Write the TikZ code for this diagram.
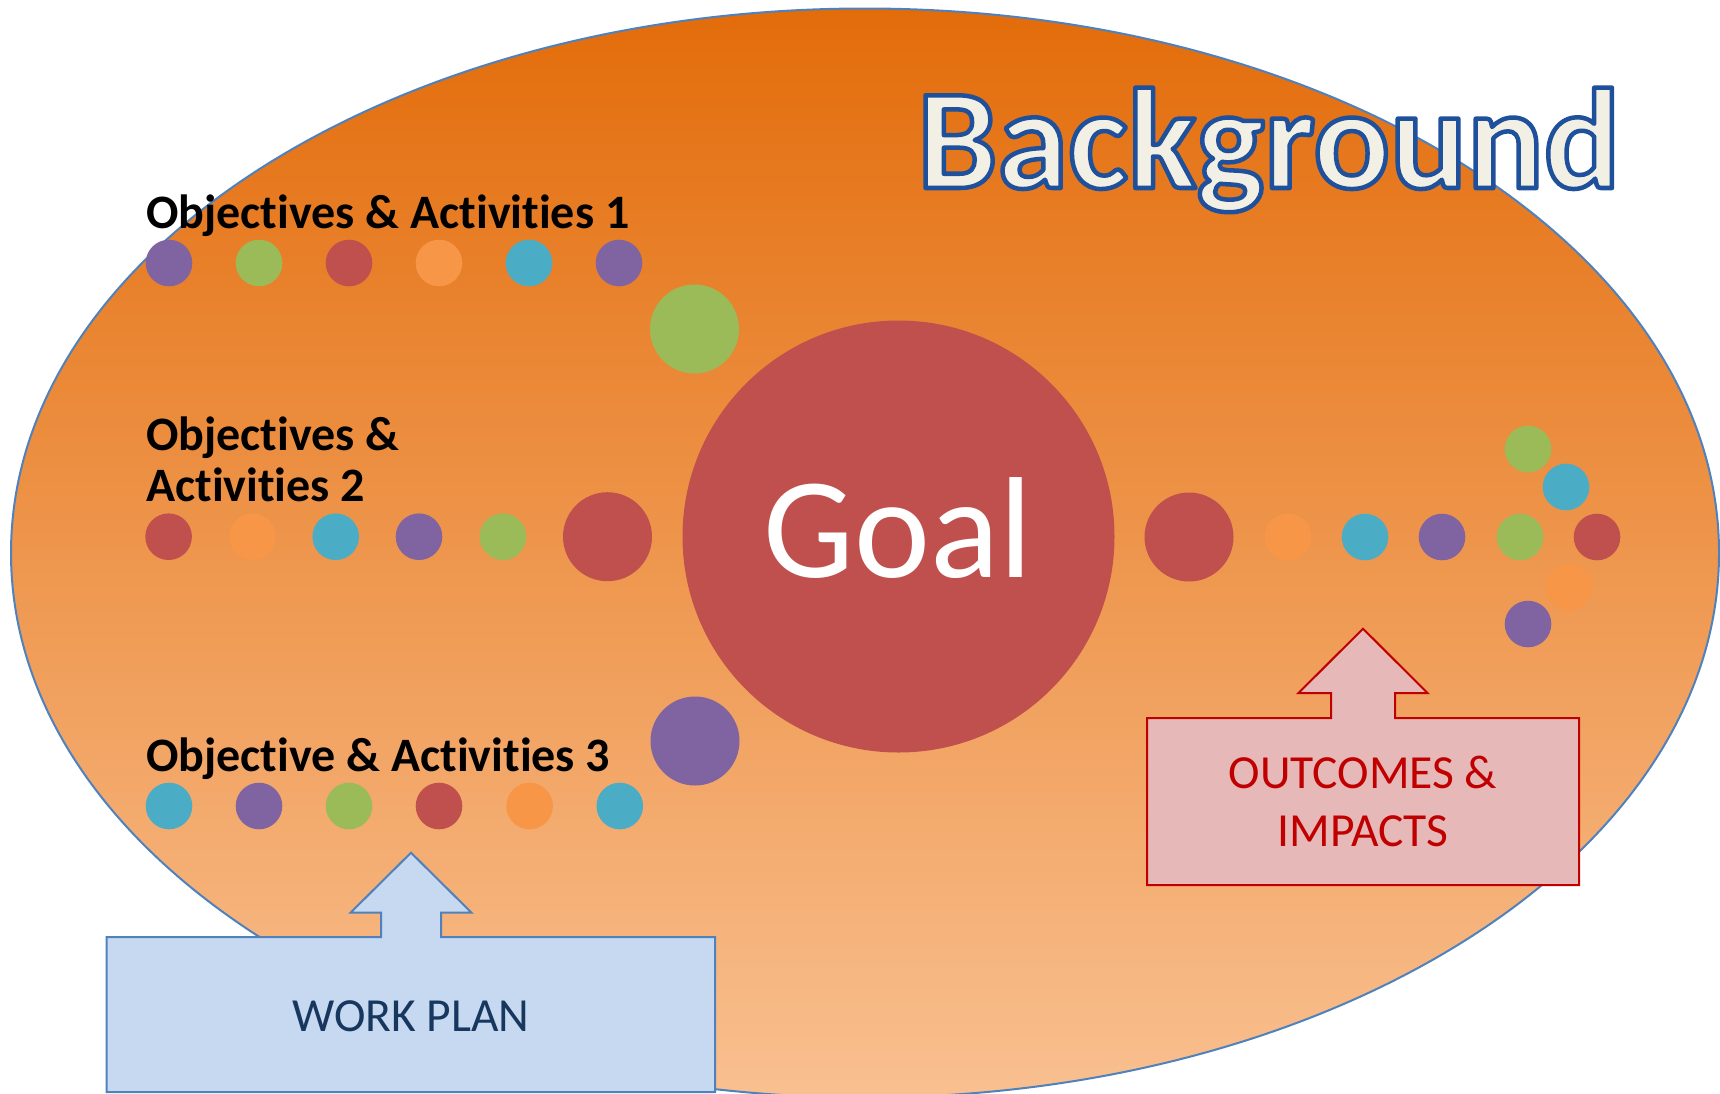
\documentclass[tikz,border=0pt]{standalone}
\usepackage{fontspec}
\setmainfont{Carlito}[Ligatures=NoCommon]
\definecolor{ctop}{RGB}{227,108,10}
\definecolor{cbot}{RGB}{249,192,144}
\definecolor{cline}{RGB}{79,129,189}
\definecolor{dpurple}{RGB}{128,100,162}
\definecolor{dgreen}{RGB}{155,187,89}
\definecolor{dred}{RGB}{192,80,77}
\definecolor{dorange}{RGB}{247,150,70}
\definecolor{dteal}{RGB}{75,172,198}
\definecolor{bgcream}{RGB}{242,240,228}
\definecolor{oifill}{RGB}{230,185,184}
\definecolor{oiline}{RGB}{192,0,0}
\definecolor{wpfill}{RGB}{198,217,240}
\definecolor{wptext}{RGB}{23,55,94}
\newcommand{\outlinedtext}[1]{\special{pdf:literal direct 2 Tr 4.5 w 1 j 0.118 0.314 0.608 RG}#1\special{pdf:literal direct 0 Tr}}
\begin{document}
\begin{tikzpicture}[x=1pt,y=-1pt,
  dot/.style={circle,inner sep=0pt,minimum size=46.6pt},
  bigdot/.style={circle,inner sep=0pt,minimum size=89pt},
  objlabel/.style={anchor=base west,inner sep=0pt,text=black,font=\fontsize{48}{52}\selectfont\bfseries},
  boxtext/.style={anchor=base,inner sep=0pt,font=\fontsize{47.5}{52}\selectfont},
  wpbox/.style={draw=cline,fill=wpfill,line width=2pt,line join=miter},
  oibox/.style={draw=oiline,fill=oifill,line width=2pt,line join=miter}]
\useasboundingbox (0,0) rectangle (1720,1093);
% background ellipse
\path[draw=cline,line width=2pt,top color=ctop,bottom color=cbot]
  (865,553) ellipse [x radius=854pt, y radius=544.5pt];
% title
\node[anchor=base west,inner sep=0pt,text=bgcream,font=\fontsize{143}{150}\selectfont\bfseries]
  (bg) at (917,188) {\outlinedtext{Background}};
% labels
\node[objlabel] (obj1) at (146,228) {Objectives \& Activities 1};
\node[objlabel] (obj2a) at (146,450) {Objectives \&};
\node[objlabel] (obj2b) at (146,501.7) {Activities 2};
\node[objlabel] (obj3) at (146,771.7) {Objective \& Activities 3};
% row 1
\node[dot,fill=dpurple] (a1) at (169,263) {};
\node[dot,fill=dgreen]  (a2) at (259,263) {};
\node[dot,fill=dred]    (a3) at (349,263) {};
\node[dot,fill=dorange] (a4) at (439,263) {};
\node[dot,fill=dteal]   (a5) at (529,263) {};
\node[dot,fill=dpurple] (a6) at (619,263) {};
\node[bigdot,fill=dgreen] (abig) at (694.5,329) {};
% row 2
\node[dot,fill=dred]    (b1) at (168.6,536.7) {};
\node[dot,fill=dorange] (b2) at (252.5,536.7) {};
\node[dot,fill=dteal]   (b3) at (335.7,536.7) {};
\node[dot,fill=dpurple] (b4) at (419,536.7) {};
\node[dot,fill=dgreen]  (b5) at (502.9,536.7) {};
\node[bigdot,fill=dred] (bbig) at (607.5,536.7) {};
% row 3
\node[dot,fill=dteal]   (c1) at (169,806) {};
\node[dot,fill=dpurple] (c2) at (259,806) {};
\node[dot,fill=dgreen]  (c3) at (349,806) {};
\node[dot,fill=dred]    (c4) at (439,806) {};
\node[dot,fill=dorange] (c5) at (529.6,806) {};
\node[dot,fill=dteal]   (c6) at (619.8,806) {};
\node[bigdot,fill=dpurple] (cbig) at (695,741) {};
% goal
\node[circle,inner sep=0pt,minimum size=432pt,fill=dred] (goal) at (898.5,536.5) {};
\node[anchor=base,inner sep=0pt,text=white,font=\fontsize{144}{150}\selectfont] (goaltxt) at (898,577) {Goal};
% right side
\node[bigdot,fill=dred] (rbig) at (1189,537) {};
\node[dot,fill=dorange] (r1) at (1288,537) {};
\node[dot,fill=dteal]   (r2) at (1365,537) {};
\node[dot,fill=dpurple] (r3) at (1442,537) {};
\node[dot,fill=dgreen]  (r4) at (1520,537) {};
\node[dot,fill=dred]    (r5) at (1597,537) {};
\node[dot,fill=dgreen]  (u1) at (1528,449) {};
\node[dot,fill=dteal]   (u2) at (1566,487) {};
\node[dot,fill=dorange] (l2) at (1568.5,587) {};
\node[dot,fill=dpurple] (l1) at (1528,624) {};
% outcomes box
\draw[oibox] (1147,885) -- (1147,718) -- (1331,718) -- (1331,693) -- (1298.5,693)
  -- (1363,628.7) -- (1427.5,693) -- (1395,693) -- (1395,718) -- (1579,718)
  -- (1579,885) -- cycle;
\node[boxtext,text=oiline] (oi1) at (1363,788) {OUTCOMES \&};
\node[boxtext,text=oiline] (oi2) at (1363,846.7) {IMPACTS};
% work plan box
\draw[wpbox] (106.6,1092) -- (106.6,937) -- (381,937) -- (381,912.7) -- (350.5,912.7)
  -- (411,852.7) -- (471.5,912.7) -- (441,912.7) -- (441,937) -- (715,937)
  -- (715,1092) -- cycle;
\node[boxtext,text=wptext] (wp) at (411,1031) {WORK PLAN};
\end{tikzpicture}
\end{document}
